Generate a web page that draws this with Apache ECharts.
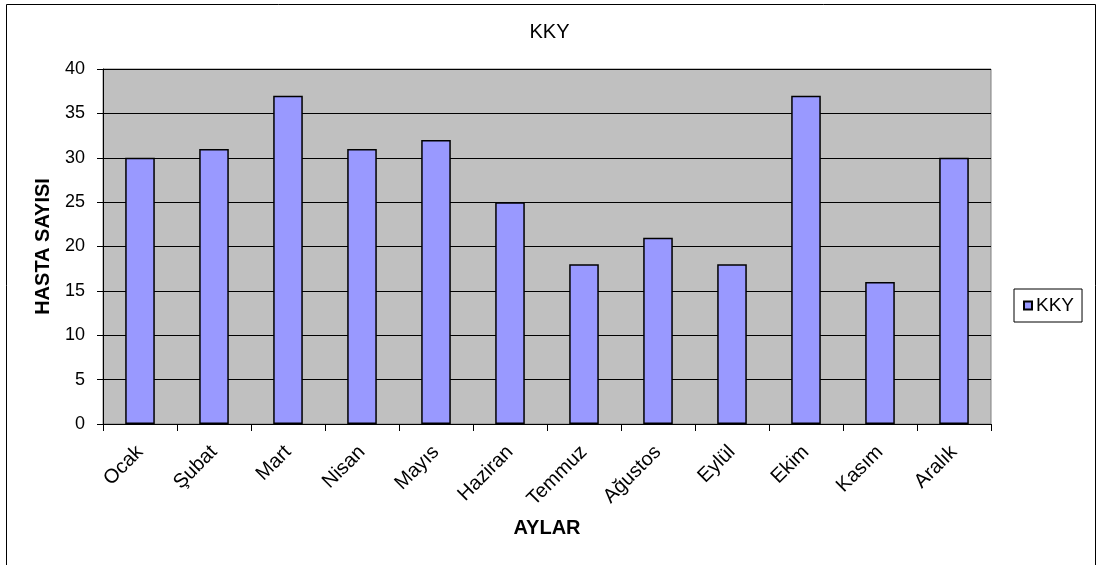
<!DOCTYPE html>
<html>
<head>
<meta charset="utf-8">
<script src="https://cdn.jsdelivr.net/npm/echarts@6/dist/echarts.min.js"></script>
<style>
  html, body { margin: 0; padding: 0; background: #fff; }
  #chart { width: 1099px; height: 565px; }
</style>
</head>
<body>
<div id="chart"></div>
<script>
// Monthly patient counts
const months = ['Ocak', 'Şubat', 'Mart', 'Nisan', 'Mayıs', 'Haziran', 'Temmuz', 'Ağustos', 'Eylül', 'Ekim', 'Kasım', 'Aralık'];
const kkyValues = [30, 31, 37, 31, 32, 25, 18, 21, 18, 37, 16, 30];
const seriesName = 'KKY';
const yMin = 0, yMax = 40, yStep = 5;

const font = '"Liberation Sans", Arial, sans-serif';
const chart = echarts.init(document.getElementById('chart'), null, { renderer: 'canvas' });

chart.setOption({
  animation: false,
  backgroundColor: '#fff',
  textStyle: { fontFamily: font, color: '#000' },
  graphic: [{
    type: 'rect',
    shape: { x: 6.5, y: 4.5, width: 1089, height: 600 },
    style: { fill: 'none', stroke: '#000', lineWidth: 1 },
    silent: true,
    z: 100
  }],
  title: {
    text: seriesName,
    left: 'center',
    top: 17,
    textStyle: { fontFamily: font, fontSize: 20, fontWeight: 'normal', color: '#000' }
  },
  legend: {
    data: [seriesName],
    orient: 'vertical',
    left: 1014,
    top: 289,
    borderColor: '#000',
    borderWidth: 1,
    padding: [7, 8, 7, 9],
    itemWidth: 8,
    itemHeight: 8,
    icon: 'rect',
    textStyle: { fontFamily: font, fontSize: 19, color: '#000', padding: [0, 0, 0, -1] }
  },
  grid: {
    left: 103, top: 69, width: 888, height: 355,
    show: true,
    backgroundColor: '#C0C0C0',
    borderColor: '#808080',
    borderWidth: 1,
    containLabel: false
  },
  xAxis: {
    type: 'category',
    data: months,
    boundaryGap: true,
    name: 'AYLAR',
    nameLocation: 'middle',
    nameGap: 94,
    nameTextStyle: { fontFamily: font, fontSize: 20, fontWeight: 'bold', color: '#000' },
    axisLine: { show: true, lineStyle: { color: '#000', width: 1 } },
    axisTick: { show: true, alignWithLabel: false, length: 7, lineStyle: { color: '#000' } },
    axisLabel: { rotate: 45, margin: 25, fontSize: 20, fontFamily: font, color: '#000', interval: 0 },
    splitLine: { show: false }
  },
  yAxis: {
    type: 'value',
    min: yMin, max: yMax, interval: yStep,
    name: 'HASTA SAYISI',
    nameLocation: 'middle',
    nameRotate: 90,
    nameGap: 50,
    nameTextStyle: { fontFamily: font, fontSize: 20, fontWeight: 'bold', color: '#000' },
    axisLine: { show: true, lineStyle: { color: '#000', width: 1 } },
    axisTick: { show: true, length: 6, lineStyle: { color: '#000' } },
    axisLabel: { margin: 18, fontSize: 18, fontFamily: font, color: '#000' },
    splitLine: { show: true, lineStyle: { color: '#000', width: 1 } }
  },
  series: [{
    name: seriesName,
    type: 'bar',
    data: kkyValues,
    barCategoryGap: '60%',
    itemStyle: { color: '#9999FF', borderColor: '#000', borderWidth: 1.5 }
  }]
});
</script>
</body>
</html>
